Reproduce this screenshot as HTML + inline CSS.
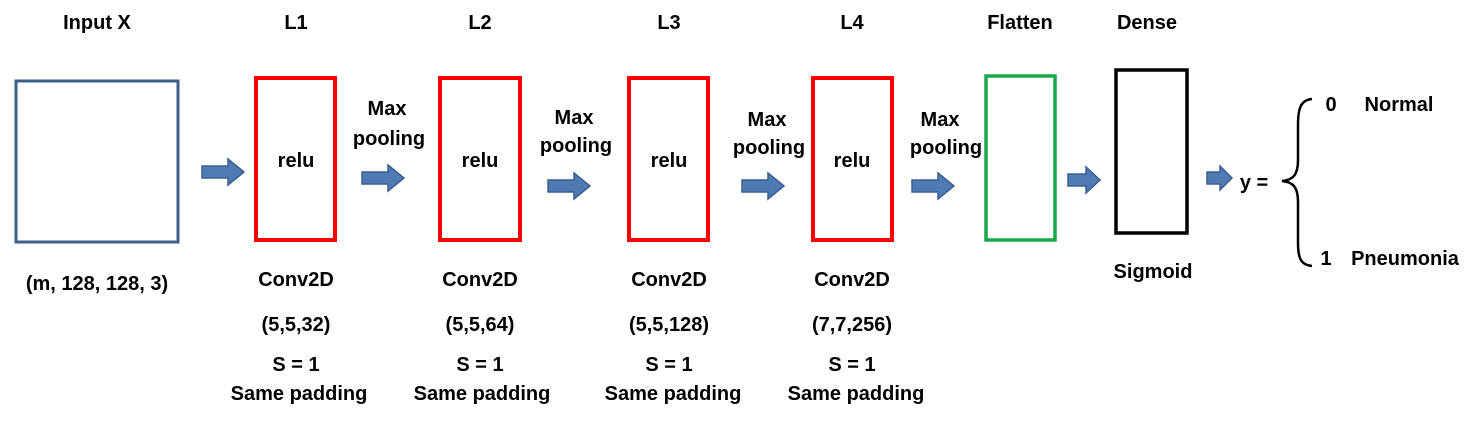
<!DOCTYPE html>
<html><head><meta charset="utf-8"><style>
html,body{margin:0;padding:0;background:#fff;}
svg text{font-family:"Liberation Sans",Arial,sans-serif;font-weight:bold;font-size:20px;fill:#000;text-anchor:middle;}
</style></head><body>
<svg width="1484" height="425" viewBox="0 0 1484 425" xmlns="http://www.w3.org/2000/svg">
<defs>
<g id="arr"><path d="M0,-6 L26,-6 L26,-13 L42,0 L26,13 L26,6 L0,6 Z" fill="#4f7bb5" stroke="#3a5f8f" stroke-width="1.5"/></g>
<g id="arrs"><path d="M0,-6 L18,-6 L18,-13 L32,0 L18,13 L18,6 L0,6 Z" fill="#4f7bb5" stroke="#3a5f8f" stroke-width="1.5"/></g>
<g id="arrt"><path d="M0,-6 L13,-6 L13,-12 L25,0 L13,12 L13,6 L0,6 Z" fill="#4f7bb5" stroke="#3a5f8f" stroke-width="1.5"/></g>
</defs>
<text x="97" y="29">Input X</text>
<text x="296" y="29">L1</text>
<text x="480" y="29">L2</text>
<text x="669" y="29">L3</text>
<text x="852" y="29">L4</text>
<text x="1020" y="29">Flatten</text>
<text x="1147" y="29">Dense</text>
<rect x="16" y="81" width="162" height="161" fill="none" stroke="#3e5f8a" stroke-width="3"/>
<rect x="256" y="78" width="79" height="162" fill="none" stroke="#ff0000" stroke-width="4"/>
<rect x="440" y="78" width="80" height="162" fill="none" stroke="#ff0000" stroke-width="4"/>
<rect x="629" y="78" width="79" height="162" fill="none" stroke="#ff0000" stroke-width="4"/>
<rect x="813" y="78" width="79" height="162" fill="none" stroke="#ff0000" stroke-width="4"/>
<rect x="986" y="76" width="69" height="164" fill="none" stroke="#1aa94a" stroke-width="3.5"/>
<rect x="1116" y="70" width="71" height="163" fill="none" stroke="#000" stroke-width="3.5"/>
<text x="296" y="167">relu</text>
<text x="480" y="167">relu</text>
<text x="669" y="167">relu</text>
<text x="852" y="167">relu</text>
<text x="387" y="115">Max</text><text x="389" y="145">pooling</text>
<text x="574" y="124">Max</text><text x="576" y="152">pooling</text>
<text x="767" y="126">Max</text><text x="769" y="154">pooling</text>
<text x="940" y="126">Max</text><text x="946" y="154">pooling</text>
<use href="#arr" x="202" y="172"/>
<use href="#arr" x="362" y="178"/>
<use href="#arr" x="548" y="186"/>
<use href="#arr" x="742" y="186"/>
<use href="#arr" x="912" y="186"/>
<use href="#arrs" x="1068" y="180"/>
<use href="#arrt" x="1207" y="178"/>
<text x="97" y="290">(m, 128, 128, 3)</text>
<text x="296" y="286">Conv2D</text><text x="296" y="331">(5,5,32)</text><text x="296" y="371">S = 1</text><text x="299" y="400">Same padding</text>
<text x="480" y="286">Conv2D</text><text x="480" y="331">(5,5,64)</text><text x="480" y="371">S = 1</text><text x="482" y="400">Same padding</text>
<text x="669" y="286">Conv2D</text><text x="669" y="331">(5,5,128)</text><text x="669" y="371">S = 1</text><text x="673" y="400">Same padding</text>
<text x="852" y="286">Conv2D</text><text x="852" y="331">(7,7,256)</text><text x="852" y="371">S = 1</text><text x="856" y="400">Same padding</text>
<text x="1153" y="278">Sigmoid</text>
<text x="1254" y="189">y =</text>
<path d="M1312,99 C1300,100 1298,110 1298,125 L1298,160 C1298,175 1293,180 1282,181 C1293,182 1298,187 1298,202 L1298,242 C1298,257 1300,265 1312,266" fill="none" stroke="#000" stroke-width="2.5"/>
<text x="1331" y="111">0</text>
<text x="1399" y="111">Normal</text>
<text x="1326" y="265">1</text>
<text x="1405" y="265">Pneumonia</text>
</svg>
</body></html>
